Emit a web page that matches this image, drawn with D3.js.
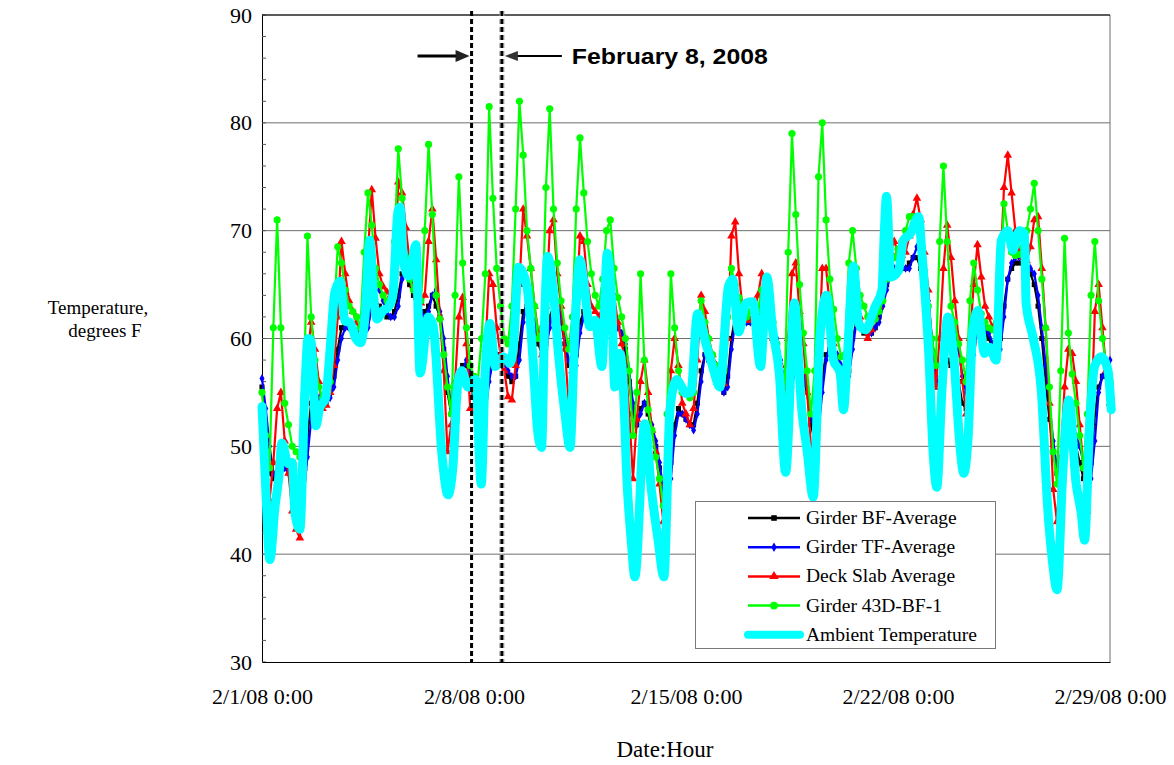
<!DOCTYPE html>
<html><head><meta charset="utf-8">
<script src="https://cdn.jsdelivr.net/npm/d3@7"></script>
<style>
html,body{margin:0;padding:0;background:#fff;}
svg{display:block;}
</style></head>
<body>
<svg id="chart" width="1174" height="765"></svg>
<script>
// ---- data (3-hour readings from 2/1/08 0:00) ----
const seriesNames = ["Girder BF-Average","Girder TF-Average","Deck Slab Average","Girder 43D-BF-1","Ambient Temperature"];
const stepHours = 3;
const girderBF = [
55.5,51,47.5,47,47.5,48.5,48.5,48,
47.5,46.5,45.5,47,51,54,55,54.5,
54.5,54.5,55,56.5,59,61,61.5,61,
61,60.5,60,60.5,62,63.5,63.5,63,
62.5,62,62,62.5,64,66,66,65,
64,63,62.5,62.5,63,64,63,62,
59,55,53,54,56,57.5,57.5,56.5,
55,52.5,52,54,57,58.5,58.5,57.5,
57,56.5,56,56.5,59.5,62.5,63,62,
61,59.5,58.5,59.5,62,63,62.5,61.5,
59.5,57.5,57,58.5,61.5,62.5,62,61.5,
61.5,61,60.5,61,62,61.5,61,60.5,
59,56,53,52,53.5,54,53,51.5,
50,48,46,45.5,48.5,52,53.5,53,
52.5,52,52,54,57,58.5,58,57,
56,55.5,55,56.5,60,62,62,61.5,
61.5,61.5,61.5,62,63,63,62.5,61,
59.5,57.5,55.5,55,56.5,57.5,57,56,
55,52,50.5,52.5,56.5,58.5,59,58.5,
58,57,56.5,57,60,61.5,61,60.5,
60.5,60.5,61,62,63.5,65,66,66.5,
66.5,66.5,66.5,67,67.5,67.5,66.5,64.5,
62,58.5,55.5,55.5,57,58,57.5,57,
56,54,53.5,56.5,59.5,61,61,60.5,
60,59,58.5,60,63,65.5,66.5,67,
67,67,66.5,66,65,63,60,56,
52.5,49.5,47.5,48.5,50.5,51.5,51,50,
48.5,47,46,48.5,53,55.5,56.5,56.5,
56];
const girderTF = [
56.3,53.5,50,47.5,47,47.5,48,47.5,
47,46,45,45.5,49,52.5,54.5,54.5,
54,54,54.5,55.5,58,60,61,61,
60.8,60.3,60,60,61,63,64.5,64.5,
63.5,62.5,62,62,63,65.5,66.5,66,
65,63.5,62.5,62,62.5,64,64.5,62.5,
60,56.5,53.5,53.5,55,57,58,57,
55.5,53,52,53,56,58,58.5,58,
57.5,57,56.5,56.5,58,61.5,63.5,63,
61.5,60,59,59,61,63,63.5,62,
60,58,57,57.5,60.5,62,62,61.5,
61.5,61,60.5,60.5,61.5,61.5,61,60.5,
59.5,57,54,52,53,54,53.5,52,
50.5,48.5,46,44.5,47,51,53,53,
52.5,52,51.5,53,56,58.5,58.5,57.5,
56.5,55.5,55,55.5,59,61.5,62,62,
61.5,61.5,61.5,61.5,62.5,63.5,63,61.5,
60,58,56,54.5,55.5,57.5,57.5,56.5,
55.5,53,51,51.5,55,58,59.5,59,
58.5,57.5,56.5,56.5,59,61.5,61.5,61,
60.5,60.5,61,61.5,63,64.5,66,66.5,
66.5,66.5,66.5,66.5,67.5,68.5,68,66,
63.5,60,56.5,55.5,56.5,59,61,60.5,
59,56.5,55,56,58.5,61,61.5,61,
60.5,59.5,58.5,59,62,65.5,67,67.5,
67.5,67.5,67,66.5,66,64,61,57.5,
54,50.5,48,48.5,50.5,52,52,51,
50,48.5,47,47,50.5,55,56.5,57.5,
58];
const deckSlab = [
53,49,45,48.5,53.5,55,50.5,47.5,
44,42.3,41.5,48,58.5,61.5,59,56,
53.5,53.8,55,57.5,62,69,66,63.5,
62.5,61.5,60.5,62,68,73.8,69.3,66,
64.8,64.3,64,65.8,74.5,73.5,70.3,67,
65,63.8,63.3,64,69,72,67.3,62,
57,49.5,52,56,62,63.8,59.5,53.5,
53.5,51,55,59,66,65,61,58.5,
57,54.6,54.3,57.5,65,72,69.5,66.5,
63,60.5,58.5,63,70,71,66,63,
59,54,57,63,69.5,69,65,63,
62.5,62,63,65.5,66,64,61.5,59.5,
58,53,47,52.5,56,58,55,51.5,
49.5,46.5,43,46,57,60,57.5,54,
53,52,53.5,58,64,62.5,60,58.5,
57.5,56.5,55.8,60,69.5,70.8,66,62.5,
61.7,61.7,62.5,64,66,64.5,62,60,
59,57.5,56,60,66,67,62.5,59.5,
55,50,50.5,58,66.5,66.5,63,59.5,
57.5,56.5,56,60,66.5,64,62,60.8,
60,60.8,62,63,65,66.5,68,69,
68,67.7,68,69.5,71.5,73,71,68,
64.5,59,55.5,60,66.5,70.5,67.5,63.5,
60,56,53,60,65,68.7,65.7,63,
62,61,61.5,66,74,77,73.5,70,
68,67.5,67.2,68.5,71,71.3,66.5,61,
54,46,43,49,55.5,59,58.6,56,
52,48,44,52,62.5,65,61,57,
54];
const girder43D = [
55,51,48,61,71,61,54,52,
50,49.5,49,54,69.5,62,58,55.5,
54.5,55,56,62,68.5,67,64.5,63,
62.5,62,61,68,73.5,70.5,66.5,65,
64,63.5,63.5,69,77.6,73,67.5,65.5,
64.5,64,63.5,70,78,71.5,64,61.8,
58.5,55.5,53,64,75,67,61,57.5,
56.5,56,60,66,81.5,73,66.5,63,
60,59.5,63,72,82,77,70,66.5,
63,60,61,74,81.3,72,67,63.5,
61,59,62,72,78.6,73.5,69,66,
64,63,65.5,70,71,66.5,63.8,62,
60,57,51,55,66,58,53.4,51.5,
49,47,44.5,53,66,61,57,55,
55,54.5,55,60.5,63.5,61.5,60,58.5,
57.5,57,57,62,66.5,65,63.8,63,
62,62.5,63,62.6,64.5,64,63.3,61.5,
59.5,56,54.8,68,79,71.5,65,60.5,
57,53,57,75,80,71,65.5,62.7,
60,58.3,58.5,67,70,66.5,64,63,
62,61.5,61.8,62.5,63.5,65.5,66.5,67.5,
68.3,69,70,71.3,71.3,70.5,68.5,66,
63,60,57.5,69,76,69,63,61.5,
59.5,58,56,63.5,67,64.5,62.3,61.5,
61,60.8,61.5,65,72.5,70,68,67.7,
67.8,68.5,70,72,74.4,70,65.5,61,
55.5,49.5,46.5,57,69.3,60.5,56.7,54,
51,48,53,64,69,63.5,60,57.5,
56];
// ambient: irregular readings (day offset from 2/1/08 0:00, deg F)
const ambientDays = [0,0.125,0.26,0.43,0.55,0.66,0.86,1.0,1.09,1.25,1.42,1.52,1.62,1.78,1.9,2.1,2.25,2.4,2.58,2.74,2.9,3.1,3.25,3.4,3.56,3.68,3.8,4.0,4.17,4.32,4.49,4.56,4.68,4.85,5.08,5.22,5.49,5.65,5.95,6.14,6.3,6.47,6.6,6.8,7.05,7.24,7.36,7.53,7.7,7.96,8.19,8.3,8.47,8.75,8.95,9.1,9.23,9.34,9.43,9.62,9.77,10.0,10.17,10.33,10.5,10.62,10.83,11.0,11.22,11.4,11.56,11.65,11.82,11.92,12.05,12.2,12.31,12.64,12.86,13.08,13.27,13.47,13.69,13.86,14.0,14.16,14.38,14.66,14.88,15.12,15.4,15.54,15.74,15.98,16.2,16.46,16.67,16.86,17.08,17.29,17.58,17.82,18.0,18.2,18.42,18.64,18.87,19.09,19.2,19.31,19.53,19.7,19.92,20.25,20.47,20.55,20.62,20.7,20.75,21.02,21.18,21.4,21.68,21.79,22.01,22.17,22.28,22.45,22.65,22.84,23.06,23.17,23.31,23.47,23.64,23.86,24.02,24.24,24.41,24.63,24.79,25.01,25.18,25.23,25.45,25.73,25.95,26.11,26.25,26.44,26.64,26.88,27.05,27.16,27.33,27.49,27.71,27.93,28.04];
const ambientTemps = [53.7,46,39.5,44.4,47,50.3,48.4,48.5,43.8,42.3,55.5,60,59.8,51.9,53.5,54.5,59,64.2,65.3,61.6,61.5,60,59.6,62,69.1,64,61.8,62.6,62.9,64,71.8,72.2,67,65.8,68.7,56.8,62,61.2,49,45.5,48,56,57,55.5,56.2,46.5,56.2,61.4,57.4,58.3,57.7,59.2,66.6,64.8,58,51.5,49.9,62.4,67.6,64.5,59.2,53.1,49.9,60.8,67.3,65.4,61.1,61.7,57.4,67.9,62.4,55.5,58.6,56.1,46.9,41,37.9,52.1,45.9,41.3,37.9,53.4,56.2,55.5,54.9,55,62.3,59.5,57.4,55.5,64.8,65.5,60.6,63.3,63.4,57.4,65.7,60.8,56.8,47.6,63.3,53.5,49.6,45.3,60,64,58,56.8,53.4,57.4,66.7,61.4,60.8,63,64.5,70,73.2,69,65.7,66.3,69.1,69.7,71.3,67.9,58.9,49,46.2,55.2,62,58.3,49.6,47.5,50.6,60.8,62.6,58.6,59.2,58,69.1,70,68.2,70,69.7,63.3,60.2,55.2,44,39.1,36.7,47.5,54.3,46.6,43.8,41.3,52.1,57.4,58.3,57.1,53.4];
const yTicks = [30,40,50,60,70,80,90];
const xTickDates = ["2008-02-01","2008-02-08","2008-02-15","2008-02-22","2008-02-29"];
const xTickLabels = ["2/1/08 0:00","2/8/08 0:00","2/15/08 0:00","2/22/08 0:00","2/29/08 0:00"];
const eventLineDays = [6.92, 7.92];
const eventLabel = "February 8, 2008";

// ---- drawing ----
const svg = d3.select("#chart");
const t0 = Date.UTC(2008,1,1);
const dayMs = 86400000;
const x = d3.scaleUtc().domain([new Date(t0), new Date(Date.UTC(2008,1,29))]).range([262,1110]);
const y = d3.scaleLinear().domain([30,90]).range([662,15]);
const FONT = "'Liberation Serif','Times New Roman',serif";

// gridlines
svg.append("g").selectAll("line").data(yTicks.filter(v=>v>30)).join("line")
  .attr("x1",262).attr("x2",1110).attr("y1",d=>y(d)).attr("y2",d=>y(d))
  .attr("stroke","#6e6e6e").attr("stroke-width",1);
svg.append("line").attr("x1",1110).attr("x2",1110).attr("y1",y(90)).attr("y2",y(30)).attr("stroke","#6e6e6e");

// axes
const yAxis = d3.axisLeft(y).tickValues(yTicks).tickSize(0).tickPadding(10).tickFormat(d3.format("d"));
const gy = svg.append("g").attr("transform","translate(262,0)").call(yAxis);
gy.select(".domain").attr("stroke","#000");
gy.selectAll("text").attr("font-family",FONT).attr("font-size",22).attr("fill","#000");
const minor = d3.range(30,90.1,2);
svg.append("g").selectAll("line").data(minor).join("line")
  .attr("x1",262).attr("x2",266).attr("y1",d=>y(d)).attr("y2",d=>y(d)).attr("stroke","#555");

const xDates = xTickDates.map(s=>new Date(s+"T00:00:00Z"));
const xAxis = d3.axisBottom(x).tickValues(xDates).tickSize(0).tickPadding(26)
  .tickFormat((d,i)=>xTickLabels[i]);
const gx = svg.append("g").attr("transform","translate(0,662)").call(xAxis);
gx.select(".domain").attr("stroke","#000");
gx.selectAll("text").attr("font-family",FONT).attr("font-size",22).attr("fill","#000");

// series
const gridTimes = girderBF.map((_,i)=>new Date(t0 + i*stepHours*3600000));
const defs = [
  {name:seriesNames[0], vals:girderBF, color:"#000000", sym:d3.symbolSquare, size:26},
  {name:seriesNames[1], vals:girderTF, color:"#0000ff", sym:d3.symbolDiamond, size:22},
  {name:seriesNames[2], vals:deckSlab, color:"#ff0000", sym:d3.symbolTriangle, size:32},
  {name:seriesNames[3], vals:girder43D, color:"#00ff00", sym:d3.symbolCircle, size:40}
];
const line = d3.line().x(d=>x(d[0])).y(d=>y(d[1]));
defs.forEach(s=>{
  const pts = s.vals.map((v,i)=>[gridTimes[i],v]);
  const g = svg.append("g");
  g.append("path").attr("d",line(pts)).attr("fill","none").attr("stroke",s.color).attr("stroke-width",2.2).attr("stroke-linejoin","round");
  g.selectAll("path.m").data(pts).join("path").attr("class","m")
    .attr("transform",d=>`translate(${x(d[0])},${y(d[1])})`)
    .attr("d",d3.symbol().type(s.sym).size(s.size)).attr("fill",s.color);
});
const amb = ambientDays.map((d,i)=>[new Date(t0 + d*dayMs), ambientTemps[i]]);
svg.append("path").attr("d",d3.line().x(d=>x(d[0])).y(d=>y(d[1])).curve(d3.curveMonotoneX)(amb))
  .attr("fill","none").attr("stroke","#00ffff").attr("stroke-width",9)
  .attr("stroke-linejoin","round").attr("stroke-linecap","round");

// top border
svg.append("line").attr("x1",262).attr("x2",1110).attr("y1",y(90)).attr("y2",y(90)).attr("stroke","#000");

// event lines
const ex = eventLineDays.map(d=>x(new Date(t0+d*dayMs)));
svg.append("line").attr("x1",ex[0]).attr("x2",ex[0]).attr("y1",11).attr("y2",662)
  .attr("stroke","#000").attr("stroke-width",3).attr("stroke-dasharray","5,3");
svg.append("line").attr("x1",ex[1]).attr("x2",ex[1]).attr("y1",11).attr("y2",662)
  .attr("stroke","#9a9a9a").attr("stroke-width",5).attr("stroke-dasharray","5,3");
svg.append("line").attr("x1",ex[1]).attr("x2",ex[1]).attr("y1",11).attr("y2",662)
  .attr("stroke","#000").attr("stroke-width",2.5).attr("stroke-dasharray","5,3");
// arrows
const ay = 56;
svg.append("line").attr("x1",ex[0]-54).attr("x2",ex[0]-12).attr("y1",ay).attr("y2",ay).attr("stroke","#000").attr("stroke-width",3);
svg.append("path").attr("d",`M${ex[0]-2},${ay} L${ex[0]-16},${ay-6} L${ex[0]-16},${ay+6} Z`).attr("fill","#222");
svg.append("line").attr("x1",ex[1]+14).attr("x2",ex[1]+60).attr("y1",ay).attr("y2",ay).attr("stroke","#000").attr("stroke-width",2);
svg.append("path").attr("d",`M${ex[1]+3},${ay} L${ex[1]+16},${ay-5} L${ex[1]+16},${ay+5} Z`).attr("fill","#333");
svg.append("text").attr("x",ex[1]+70).attr("y",ay+8).text(eventLabel)
  .attr("font-family","'Liberation Sans',Arial,sans-serif").attr("font-weight","bold").attr("font-size",22)
  .attr("textLength",196).attr("lengthAdjust","spacingAndGlyphs").attr("fill","#000");

// axis titles
svg.append("text").attr("x",98).attr("y",314).attr("text-anchor","middle").attr("font-family",FONT).attr("font-size",19).text("Temperature,");
svg.append("text").attr("x",105).attr("y",337).attr("text-anchor","middle").attr("font-family",FONT).attr("font-size",19).text("degrees F");
svg.append("text").attr("x",665).attr("y",757).attr("text-anchor","middle").attr("font-family",FONT).attr("font-size",23).text("Date:Hour");

// legend
const lg = svg.append("g");
lg.append("rect").attr("x",695.5).attr("y",501.5).attr("width",300).attr("height",147).attr("fill","#fff").attr("stroke","#7a7a7a");
const legItems = [...defs, {name:seriesNames[4], color:"#00ffff", cyan:true}];
legItems.forEach((s,i)=>{
  const cy = 518 + i*29.2;
  if (s.cyan) {
    lg.append("line").attr("x1",748).attr("x2",800).attr("y1",cy).attr("y2",cy).attr("stroke",s.color).attr("stroke-width",8).attr("stroke-linecap","round");
  } else {
    lg.append("line").attr("x1",748).attr("x2",800).attr("y1",cy).attr("y2",cy).attr("stroke",s.color).attr("stroke-width",2.5);
    lg.append("path").attr("transform",`translate(774,${cy})`).attr("d",d3.symbol().type(s.sym).size(s.size*1.2)).attr("fill",s.color);
  }
  lg.append("text").attr("x",806).attr("y",cy+6).attr("font-family",FONT).attr("font-size",19.5).text(s.name);
});
</script>
</body></html>
